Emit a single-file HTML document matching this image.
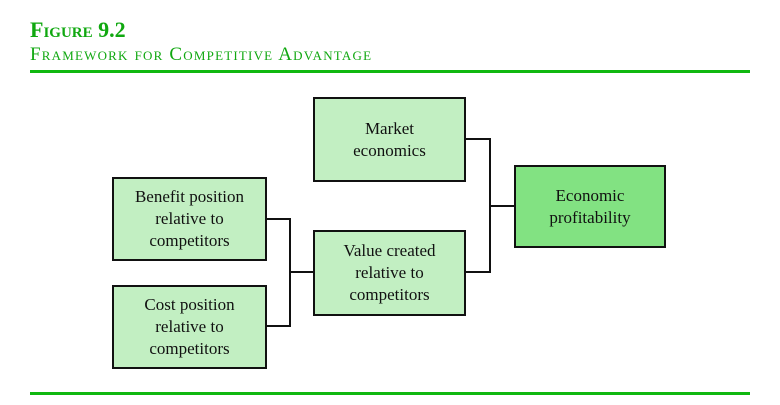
<!DOCTYPE html>
<html><head><style>
body{margin:0;width:780px;height:405px;background:#fff;position:relative;font-family:"Liberation Serif",serif;overflow:hidden}
.t{position:absolute;left:30px;color:#10a810;font-variant:small-caps;white-space:nowrap}
.line{position:absolute;left:30px;width:720px;height:3px;background:#10b810}
.b{position:absolute;box-sizing:border-box;border:2px solid #111;background:#c2efc2;display:flex;align-items:center;justify-content:center;text-align:center;font-size:17px;line-height:22px;color:#111}
.h{position:absolute;background:#111;height:2px}
.v{position:absolute;background:#111;width:2px}
</style></head><body>
<div class="t" style="top:17px;font-size:22px;font-weight:bold">Figure 9.2</div>
<div class="t" style="top:44px;font-size:19px;letter-spacing:1.2px">Framework for Competitive Advantage</div>
<div class="line" style="top:70px"></div>
<div class="line" style="top:392px"></div>

<div class="b" style="left:313px;top:97px;width:153px;height:85px">Market<br>economics</div>
<div class="b" style="left:514px;top:165px;width:152px;height:83px;background:#82e282">Economic<br>profitability</div>
<div class="b" style="left:112px;top:177px;width:155px;height:84px">Benefit position<br>relative to<br>competitors</div>
<div class="b" style="left:313px;top:230px;width:153px;height:86px">Value created<br>relative to<br>competitors</div>
<div class="b" style="left:112px;top:285px;width:155px;height:84px">Cost position<br>relative to<br>competitors</div>

<div class="h" style="left:266px;top:218px;width:24px"></div>
<div class="h" style="left:266px;top:325px;width:24px"></div>
<div class="v" style="left:289px;top:218px;height:109px"></div>
<div class="h" style="left:289px;top:271px;width:25px"></div>

<div class="h" style="left:465px;top:138px;width:25px"></div>
<div class="h" style="left:465px;top:271px;width:25px"></div>
<div class="v" style="left:489px;top:138px;height:135px"></div>
<div class="h" style="left:489px;top:205px;width:26px"></div>
</body></html>
